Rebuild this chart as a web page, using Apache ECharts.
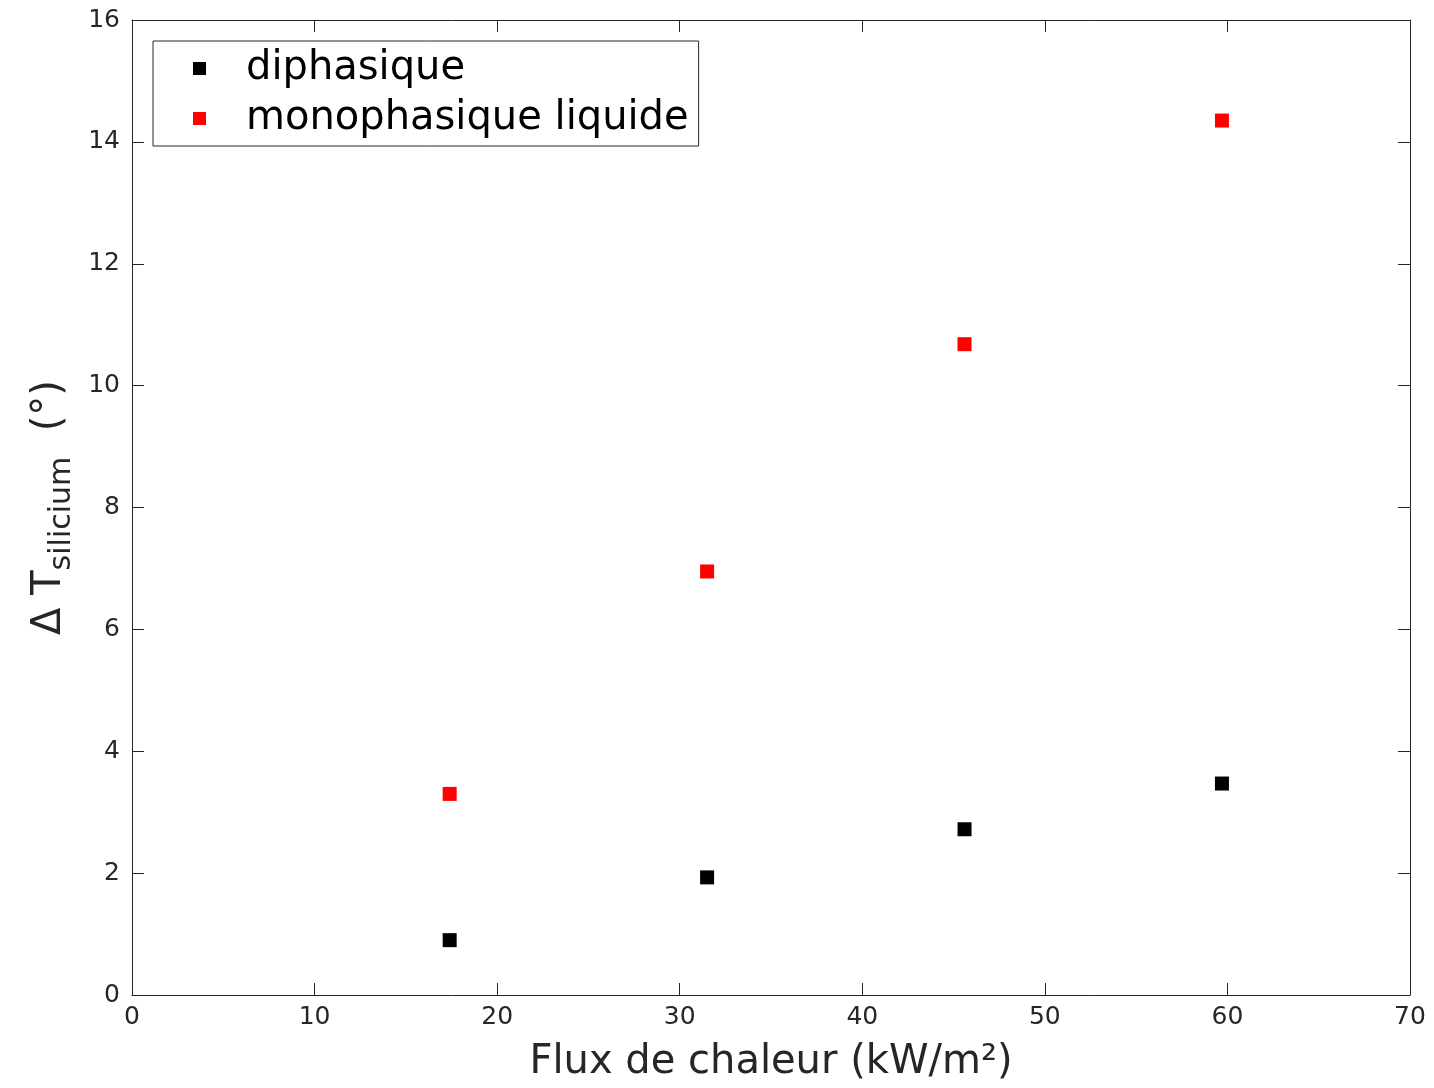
<!DOCTYPE html>
<html>
<head>
<meta charset="utf-8">
<script src="https://cdn.jsdelivr.net/npm/echarts@6/dist/echarts.min.js"></script>
<style>
  html, body { margin: 0; padding: 0; background: #fff; }
  #chart { width: 1434px; height: 1088px; }
</style>
</head>
<body>
<div id="chart"></div>
<script>
// flux de chaleur (kW/m²)
const fluxValues = [17.4, 31.5, 45.6, 59.7];
// delta T silicium
const diphasique = [0.90, 1.93, 2.72, 3.47];
const monophasiqueLiquide = [3.30, 6.95, 10.68, 14.35];
const seriesNames = ['diphasique', 'monophasique liquide'];

const axisColor = '#262626';
const fontFamily = 'DejaVu Sans';

function pairs(xs, ys) {
  return xs.map((x, i) => [x, ys[i]]);
}

const chart = echarts.init(document.getElementById('chart'));

let option = {
  animation: false,
  backgroundColor: '#fff',
  textStyle: {fontFamily: fontFamily},
  grid: {left: 132, right: 24, top: 20, bottom: 90},
  legend: {
    data: seriesNames,
    orient: 'vertical',
    left: 153,
    top: 41,
    padding: [6, 10, 6, 40],
    itemGap: 7,
    itemWidth: 13,
    itemHeight: 13,
    borderColor: axisColor,
    borderWidth: 1,
    backgroundColor: '#fff',
    textStyle: {
      fontSize: 40,
      lineHeight: 40,
      color: '#000',
      fontFamily: fontFamily,
      padding: [3, 0, 0, 35]
    }
  },
  xAxis: [
    {
      type: 'value',
      min: 0,
      max: 70,
      interval: 10,
      name: 'Flux de chaleur (kW/m²)',
      nameLocation: 'middle',
      nameGap: 48,
      nameTextStyle: {fontSize: 40, color: axisColor, fontFamily: fontFamily},
      axisLine: {show: true, onZero: false, lineStyle: {color: axisColor, width: 1}},
      axisTick: {show: true, inside: true, length: 12, lineStyle: {color: axisColor}},
      axisLabel: {fontSize: 25, color: axisColor, margin: 10, fontFamily: fontFamily},
      splitLine: {show: false}
    },
    {
      type: 'value',
      position: 'top',
      min: 0,
      max: 70,
      interval: 10,
      axisLine: {show: true, onZero: false, lineStyle: {color: axisColor, width: 1}},
      axisTick: {show: true, inside: true, length: 12, lineStyle: {color: axisColor}},
      axisLabel: {show: false},
      splitLine: {show: false}
    }
  ],
  yAxis: [
    {
      type: 'value',
      min: 0,
      max: 16,
      interval: 2,
      name: '{a|Δ T}{s|silicium}{a|  (°)}',
      nameLocation: 'middle',
      nameGap: 58,
      nameTextStyle: {
        color: axisColor,
        fontFamily: fontFamily,
        rich: {
          a: {fontSize: 40, lineHeight: 40, verticalAlign: 'top', color: axisColor, fontFamily: fontFamily},
          s: {fontSize: 30, lineHeight: 30, padding: [26, 0, 0, 0], color: axisColor, fontFamily: fontFamily}
        }
      },
      axisLine: {show: true, onZero: false, lineStyle: {color: axisColor, width: 1}},
      axisTick: {show: true, inside: true, length: 12, lineStyle: {color: axisColor}},
      axisLabel: {fontSize: 25, color: axisColor, margin: 12, fontFamily: fontFamily},
      splitLine: {show: false}
    },
    {
      type: 'value',
      position: 'right',
      min: 0,
      max: 16,
      interval: 2,
      axisLine: {show: true, onZero: false, lineStyle: {color: axisColor, width: 1}},
      axisTick: {show: true, inside: true, length: 12, lineStyle: {color: axisColor}},
      axisLabel: {show: false},
      splitLine: {show: false}
    }
  ],
  series: [
    {
      name: seriesNames[0],
      type: 'scatter',
      symbol: 'rect',
      symbolSize: 14,
      itemStyle: {color: '#000', opacity: 1},
      data: pairs(fluxValues, diphasique)
    },
    {
      name: seriesNames[1],
      type: 'scatter',
      symbol: 'rect',
      symbolSize: 14,
      itemStyle: {color: '#ff0000', opacity: 1},
      data: pairs(fluxValues, monophasiqueLiquide)
    }
  ]
};

chart.setOption(option);
</script>
</body>
</html>
